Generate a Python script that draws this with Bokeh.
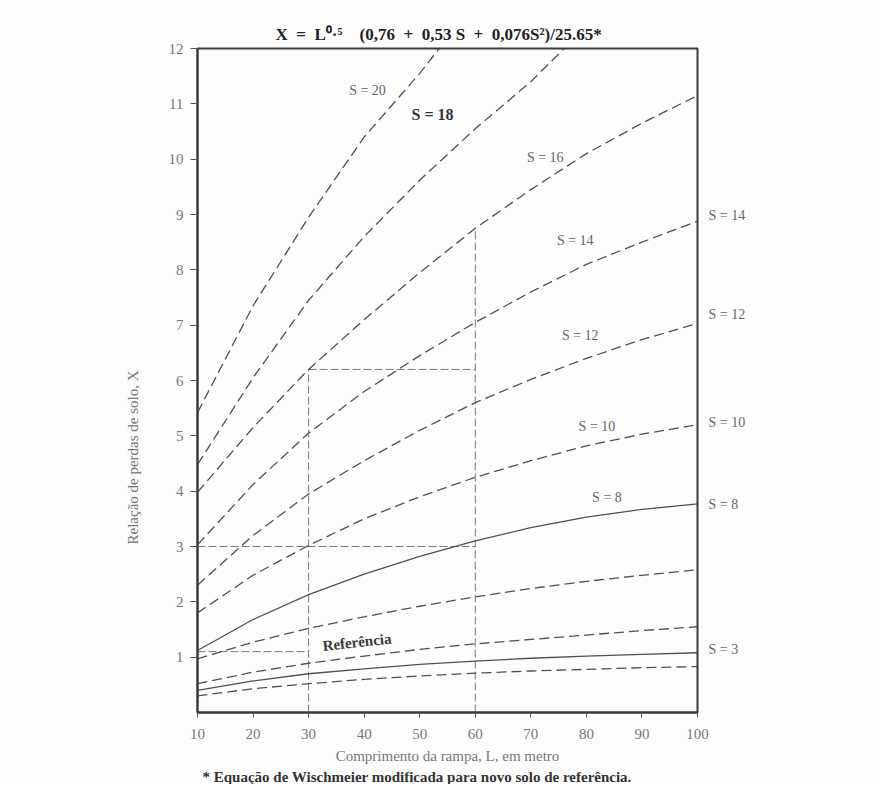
from bokeh.plotting import figure
from bokeh.models import Label, FixedTicker, Range1d, Title, LinearAxis
from bokeh.embed import file_html
from bokeh.resources import INLINE

# ---------------- data ----------------
L = [10, 20, 30, 40, 50, 60, 70, 80, 90, 100]

L_S20 = [10, 20, 30, 40, 50, 53.5]
X_S20 = [5.42, 7.35, 8.95, 10.4, 11.55, 12.0]

L_S18 = [10, 20, 30, 40, 50, 60, 70, 76]
X_S18 = [4.48, 6.05, 7.45, 8.6, 9.62, 10.55, 11.4, 12.0]

X_S16 = [3.98, 5.15, 6.2, 7.1, 7.95, 8.75, 9.45, 10.1, 10.65, 11.15]
X_S14 = [3.03, 4.12, 5.05, 5.8, 6.45, 7.05, 7.6, 8.1, 8.5, 8.88]
X_S12 = [2.3, 3.2, 3.95, 4.55, 5.1, 5.6, 6.02, 6.4, 6.74, 7.03]
X_S10 = [1.8, 2.48, 3.02, 3.5, 3.9, 4.25, 4.55, 4.82, 5.03, 5.2]
X_S8 = [1.12, 1.68, 2.13, 2.5, 2.82, 3.1, 3.34, 3.53, 3.67, 3.77]
X_S6 = [0.97, 1.27, 1.52, 1.73, 1.92, 2.09, 2.24, 2.37, 2.48, 2.58]
X_S4 = [0.52, 0.73, 0.89, 1.02, 1.14, 1.24, 1.32, 1.40, 1.48, 1.55]
X_S3 = [0.40, 0.57, 0.70, 0.79, 0.87, 0.93, 0.98, 1.02, 1.05, 1.08]
X_S2 = [0.30, 0.43, 0.52, 0.60, 0.66, 0.71, 0.75, 0.78, 0.81, 0.83]

# guide lines (example reading)
GUIDE_H3_X = [10, 60]
GUIDE_H3_Y = [3, 3]
GUIDE_H62_X = [30, 60]
GUIDE_H62_Y = [6.2, 6.2]
GUIDE_H11_X = [10, 30]
GUIDE_H11_Y = [1.1, 1.1]
GUIDE_V30_X = [30, 30]
GUIDE_V30_Y = [0, 6.2]
GUIDE_V60_X = [60, 60]
GUIDE_V60_Y = [0, 8.75]

X_TICKS = [10, 20, 30, 40, 50, 60, 70, 80, 90, 100]
Y_TICKS = [1, 2, 3, 4, 5, 6, 7, 8, 9, 10, 11, 12]

# curve labels inside the plot: (text, x, y)
INNER_LABELS = [
    ("S = 20", 40.6, 11.24),
    ("S = 16", 72.6, 10.03),
    ("S = 14", 78.0, 8.53),
    ("S = 12", 78.9, 6.81),
    ("S = 10", 81.9, 5.16),
    ("S = 8", 83.7, 3.89),
]
# curve labels at the right margin (y position, text)
RIGHT_LABEL_Y = [8.98, 7.2, 5.25, 3.76, 1.14]
RIGHT_LABEL_TEXT = ["S = 14", "S = 12", "S = 10", "S = 8", "S = 3"]

EN = "\u2002"
TITLE = ("X" + EN + "=" + EN + "L⁰·⁵" + EN + EN + "(0,76" + EN + "+" + EN + "0,53 S"
         + EN + "+" + EN + "0,076S²)/25.65*")
X_LABEL = "Comprimento da rampa, L, em metro"
Y_LABEL = "Relação de perdas de solo, X"
FOOTNOTE = "* Equação de Wischmeier modificada para novo solo de referência."

SERIF = "Liberation Serif"
CURVE_COLOR = "#505050"
GUIDE_COLOR = "#7a7a7a"

p = figure(width=874, height=784,
           x_range=Range1d(10, 100), y_range=Range1d(0, 12),
           output_backend="svg", toolbar_location=None,
           min_border_left=197, min_border_right=177,
           min_border_top=48, min_border_bottom=72)
p.title.visible = False
p.xgrid.visible = False
p.ygrid.visible = False
p.background_fill_color = "#fdfdfd"
p.border_fill_color = "#fdfdfd"
p.outline_line_color = "#3a3a3a"
p.outline_line_width = 2

p.xaxis.ticker = FixedTicker(ticks=X_TICKS)
p.yaxis.ticker = FixedTicker(ticks=Y_TICKS)
for ax in (p.xaxis, p.yaxis):
    ax.axis_line_color = "#3a3a3a"
    ax.axis_line_width = 2
    ax.major_tick_line_color = "#555555"
    ax.major_tick_line_width = 1
    ax.minor_tick_line_color = None
    ax.major_tick_in = 0
    ax.major_label_text_font = SERIF
    ax.major_label_text_font_size = "15px"
    ax.major_label_text_color = "#777777"
p.yaxis.major_tick_out = 7
p.yaxis.major_label_standoff = 7
p.xaxis.major_tick_out = 5
p.xaxis.major_label_standoff = 11
p.xaxis.axis_label = X_LABEL
p.xaxis.axis_label_text_font = SERIF
p.xaxis.axis_label_text_font_size = "15px"
p.xaxis.axis_label_text_font_style = "normal"
p.xaxis.axis_label_text_color = "#777777"
p.xaxis.axis_label_standoff = 6

# right-side curve labels as an axis of labels
right_axis = LinearAxis(ticker=FixedTicker(ticks=RIGHT_LABEL_Y),
                        major_label_overrides=dict(zip(RIGHT_LABEL_Y, RIGHT_LABEL_TEXT)))
right_axis.axis_line_color = None
right_axis.major_tick_line_color = None
right_axis.minor_tick_line_color = None
right_axis.major_tick_in = 0
right_axis.major_tick_out = 0
right_axis.major_label_standoff = 11
right_axis.major_label_text_font = SERIF
right_axis.major_label_text_font_size = "14px"
right_axis.major_label_text_color = "#666666"
p.add_layout(right_axis, "right")

# title, y label and footnote as side titles
p.add_layout(Title(text=TITLE, align="left", offset=78, standoff=10,
                   text_font=SERIF, text_font_size="17px", text_font_style="bold",
                   text_color="#222222"), "above")
p.add_layout(Title(text=Y_LABEL, align="left", offset=168, standoff=50,
                   text_font=SERIF, text_font_size="15px", text_font_style="normal",
                   text_color="#777777"), "left")
p.add_layout(Title(text=FOOTNOTE, align="left", offset=5, standoff=0,
                   text_font=SERIF, text_font_size="15px", text_font_style="bold",
                   text_color="#333333"), "below")

# guide lines
for gx, gy in [(GUIDE_H3_X, GUIDE_H3_Y), (GUIDE_H62_X, GUIDE_H62_Y),
               (GUIDE_H11_X, GUIDE_H11_Y), (GUIDE_V30_X, GUIDE_V30_Y),
               (GUIDE_V60_X, GUIDE_V60_Y)]:
    p.line(gx, gy, line_color=GUIDE_COLOR, line_width=1, line_dash="8 3")

# curves
dashed = [(L_S20, X_S20), (L_S18, X_S18), (L, X_S16), (L, X_S14), (L, X_S12),
          (L, X_S10), (L, X_S6), (L, X_S4), (L, X_S2)]
for xs, ys in dashed:
    p.line(xs, ys, line_color=CURVE_COLOR, line_width=1.3, line_dash="10 5")
for ys in (X_S8, X_S3):
    p.line(L, ys, line_color=CURVE_COLOR, line_width=1.3)


def lab(text, x, y, size="14px", color="#666666", bold=False, angle=0.0):
    p.add_layout(Label(x=x, y=y, text=text, text_font=SERIF, text_font_size=size,
                       text_color=color, text_font_style="bold" if bold else "normal",
                       text_align="center", text_baseline="middle", angle=angle))


for t, x, y in INNER_LABELS:
    lab(t, x, y)
lab("S = 18", 52.3, 10.8, size="16px", color="#333333", bold=True)
lab("Referência", 38.7, 1.27, size="15px", color="#3a3a3a", bold=True, angle=0.11)

open("out.html", "w").write(file_html(p, INLINE))
